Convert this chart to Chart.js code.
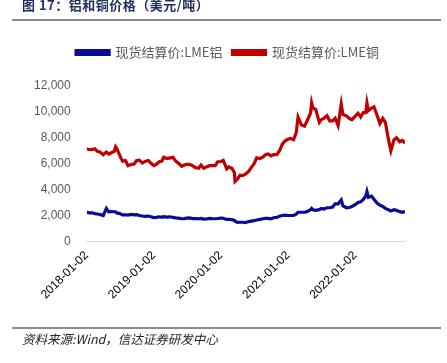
<!DOCTYPE html>
<html><head><meta charset="utf-8">
<script src="https://cdn.jsdelivr.net/npm/chart.js@4.4.1/dist/chart.umd.min.js"></script>
<style>
html,body{margin:0;padding:0;background:#fff;width:447px;height:363px;overflow:hidden;position:relative;font-family:"Noto Sans CJK SC",sans-serif;}
#title{position:absolute;left:22px;top:-5px;font-size:13px;font-weight:bold;color:#1f2d5c;white-space:nowrap;letter-spacing:0.5px;}
.rule{position:absolute;left:12px;width:429px;height:2px;background:#8c8c8c;}
#src{position:absolute;left:22px;top:329px;font-size:12.5px;font-style:italic;color:#222;white-space:nowrap;}
#wrap{position:absolute;left:0;top:0;width:447px;height:363px;}
</style></head>
<body>
<div id="wrap"><canvas id="c" width="447" height="363"></canvas></div>
<div id="title">图 17：铝和铜价格（美元/吨）</div>
<div class="rule" style="top:19px"></div>
<div class="rule" style="top:327px"></div>
<div id="src">资料来源:Wind，信达证券研发中心</div>
<script>
const seriesNames = ['现货结算价:LME铝', '现货结算价:LME铜'];
const tickLabels = ['2018-01-02','2019-01-02','2020-01-02','2021-01-02','2022-01-02'];
const dates = [
'2018-01-02','2018-01-16','2018-02-01','2018-02-15','2018-03-01','2018-03-15','2018-04-02','2018-04-19','2018-05-02','2018-05-16','2018-06-01','2018-06-08','2018-06-15','2018-07-02','2018-07-16','2018-08-01','2018-08-15','2018-09-03','2018-09-17','2018-10-01','2018-10-15','2018-11-01','2018-11-15','2018-12-03','2018-12-17',
'2019-01-02','2019-01-15','2019-02-01','2019-02-15','2019-02-25','2019-03-15','2019-04-01','2019-04-17','2019-05-01','2019-05-15','2019-06-03','2019-06-17','2019-07-01','2019-07-15','2019-08-01','2019-08-15','2019-09-03','2019-09-16','2019-10-01','2019-10-15','2019-11-01','2019-11-15','2019-12-02','2019-12-16',
'2020-01-02','2020-01-15','2020-02-03','2020-02-14','2020-03-02','2020-03-16','2020-03-19','2020-04-01','2020-04-15','2020-05-01','2020-05-15','2020-06-01','2020-06-15','2020-07-01','2020-07-15','2020-08-03','2020-08-17','2020-09-01','2020-09-15','2020-10-01','2020-10-15','2020-11-02','2020-11-16','2020-12-01','2020-12-15',
'2021-01-04','2021-01-15','2021-02-01','2021-02-15','2021-02-25','2021-03-15','2021-04-01','2021-04-15','2021-05-04','2021-05-10','2021-05-17','2021-06-01','2021-06-21','2021-07-01','2021-07-15','2021-08-02','2021-08-16','2021-09-01','2021-09-15','2021-10-01','2021-10-18','2021-10-27','2021-11-15','2021-12-01','2021-12-15',
'2022-01-04','2022-01-17','2022-02-01','2022-02-15','2022-03-01','2022-03-07','2022-03-15','2022-04-01','2022-04-14','2022-05-02','2022-05-16','2022-06-01','2022-06-15','2022-07-01','2022-07-15','2022-08-01','2022-08-15','2022-09-01','2022-09-15','2022-09-30'
];
const aluminium = [
2250,2200,2210,2150,2120,2080,2000,2540,2280,2300,2290,2280,2200,2150,2050,2060,2030,2080,2050,2060,2000,1960,1940,1960,1910,
1840,1860,1900,1860,1920,1880,1900,1850,1820,1800,1750,1760,1800,1820,1760,1760,1750,1780,1720,1730,1780,1760,1750,1770,
1800,1790,1700,1700,1680,1620,1560,1470,1480,1480,1450,1530,1570,1600,1650,1700,1750,1780,1780,1750,1830,1850,1950,2000,2030,
2000,2000,2000,2100,2250,2250,2250,2300,2450,2550,2450,2400,2450,2550,2500,2600,2600,2650,2900,2900,3200,2750,2600,2620,2700,
2850,3000,3050,3250,3500,3850,3400,3500,3250,2950,2800,2700,2550,2450,2350,2450,2400,2300,2250,2300
];
const copper = [
7150,7080,7100,7150,6950,6900,6700,6900,6750,6850,6950,7300,7150,6600,6200,6250,5850,5950,5980,6250,6280,6050,6180,6250,6050,
5850,5950,6150,6200,6500,6400,6450,6500,6200,6050,5800,5900,5950,5950,5850,5700,5650,5900,5650,5750,5850,5850,5850,6150,
6170,6250,5600,5750,5650,5300,4630,4800,5100,5100,5200,5400,5700,6000,6450,6400,6500,6700,6750,6600,6700,6700,7000,7500,7750,
7900,7950,7850,8400,9600,9000,8900,9300,9900,10700,10300,10200,9200,9400,9500,9700,9300,9300,9500,8950,10600,9800,9700,9500,9400,
9700,9900,9600,9950,9950,10700,10100,10300,10400,9700,9100,9500,9200,7950,7000,7850,8000,7700,7800,7600
];
const yTicks = [0,2000,4000,6000,8000,10000,12000];

const toPts = vals => dates.map((d,i)=>({x:Date.parse(d), y:vals[i]}));
const colors = ['#0a0a96','#c00000'];

const legendSpace = {id:'legendSpace',
  beforeInit(chart){
    const fit = chart.legend.fit;
    chart.legend.fit = function(){ fit.bind(chart.legend)(); this.height += 16; };
  },
  afterLayout(chart){ chart.legend.left += 16; chart.legend.right += 16; chart.legend.top -= 1; }
};

new Chart(document.getElementById('c'), {
  type:'line',
  data:{datasets:[
    {label:seriesNames[0], data:toPts(aluminium), borderColor:colors[0], backgroundColor:colors[0], borderWidth:3.2, pointRadius:0, tension:0},
    {label:seriesNames[1], data:toPts(copper), borderColor:colors[1], backgroundColor:colors[1], borderWidth:3.2, pointRadius:0, tension:0}
  ]},
  plugins:[legendSpace],
  options:{
    responsive:false, animation:false,
    layout:{padding:{left:18, right:42, top:37, bottom:58}},
    plugins:{
      legend:{position:'top', labels:{boxWidth:33, boxHeight:4, padding:10, color:'#595959', font:{family:'"Noto Sans CJK SC", sans-serif', size:13}}},
      tooltip:{enabled:false}
    },
    scales:{
      x:{type:'linear', min:Date.parse(dates[0]), max:Date.parse(dates[dates.length-1]),
        afterBuildTicks: s => { s.ticks = tickLabels.map(t=>({value:Date.parse(t)})); },
        ticks:{autoSkip:false, maxRotation:45, minRotation:45, color:'#000', font:{family:'"Liberation Sans", Arial, sans-serif', size:12},
          callback: v => { const d=new Date(v); return d.toISOString().slice(0,10); }},
        grid:{display:false, drawTicks:true, tickLength:4}, border:{display:true, color:'#d9d9d9', width:1}
      },
      y:{min:0, max:12000,
        afterBuildTicks: s => { s.ticks = yTicks.map(v=>({value:v})); },
        ticks:{padding:16, color:'#595959', font:{family:'"Liberation Sans", Arial, sans-serif', size:12},
          callback: v => v.toLocaleString('en-US')},
        grid:{display:false, drawTicks:false}, border:{display:false}
      }
    }
  }
});
</script>
</body></html>
